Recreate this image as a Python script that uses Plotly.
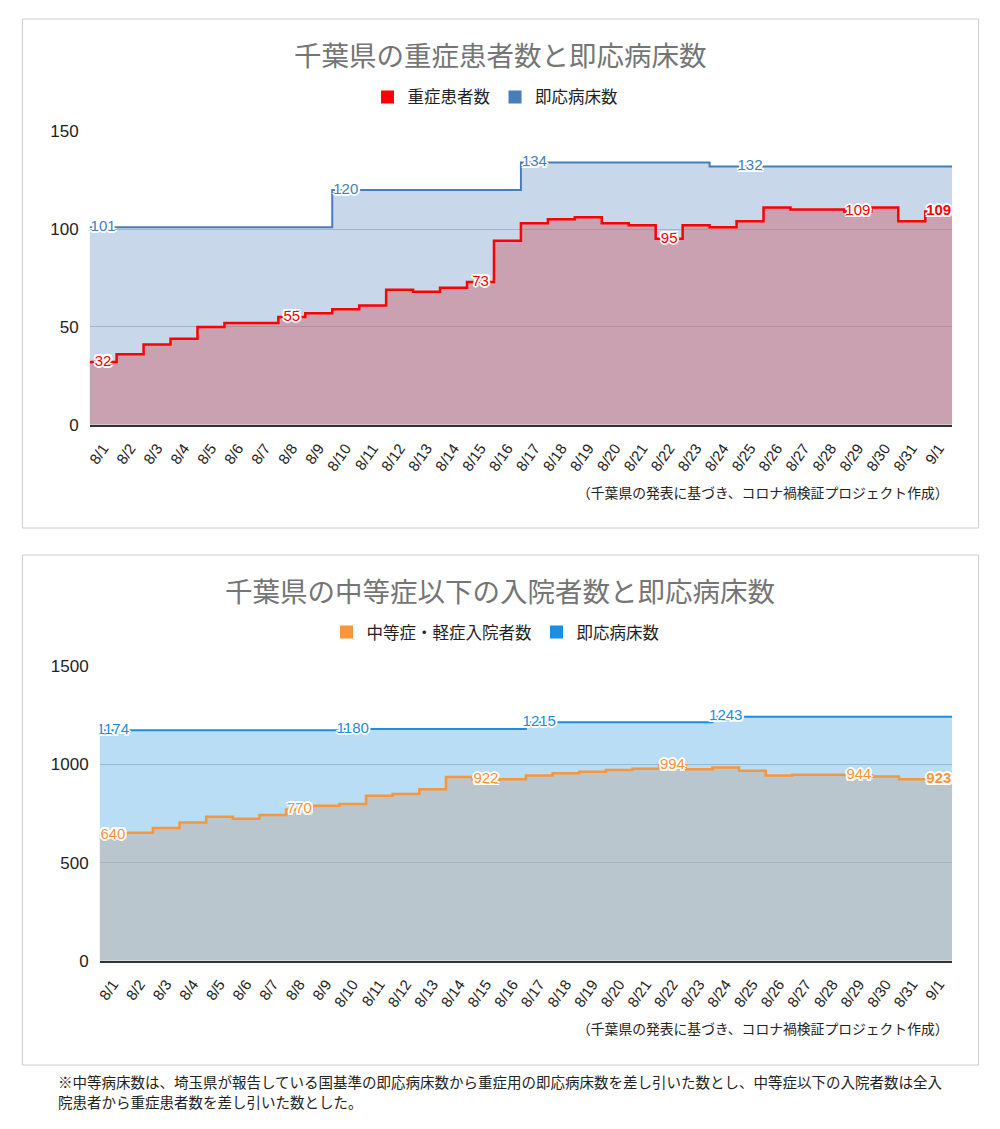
import plotly.graph_objects as go

# ---------------- data ----------------
dates = ["8/1", "8/2", "8/3", "8/4", "8/5", "8/6", "8/7", "8/8", "8/9", "8/10",
         "8/11", "8/12", "8/13", "8/14", "8/15", "8/16", "8/17", "8/18", "8/19", "8/20",
         "8/21", "8/22", "8/23", "8/24", "8/25", "8/26", "8/27", "8/28", "8/29", "8/30",
         "8/31", "9/1"]

severe_patients = [32, 36, 41, 44, 50, 52, 52, 55, 57, 59, 61, 69, 68, 70, 73, 94,
                   103, 105, 106, 103, 102, 95, 102, 101, 104, 111, 110, 110, 109, 111,
                   104, 109]
severe_beds = [101, 101, 101, 101, 101, 101, 101, 101, 101, 120, 120, 120, 120, 120, 120, 120,
               134, 134, 134, 134, 134, 134, 134, 132, 132, 132, 132, 132, 132, 132,
               132, 132]

moderate_patients = [640, 652, 676, 704, 733, 723, 743, 770, 789, 799, 840, 850, 873, 936,
                     922, 924, 943, 955, 963, 971, 978, 994, 976, 985, 968, 943, 948, 948,
                     944, 939, 924, 923]
moderate_beds = [1174, 1174, 1174, 1174, 1174, 1174, 1174, 1174, 1174, 1180, 1180, 1180,
                 1180, 1180, 1180, 1180, 1215, 1215, 1215, 1215, 1215, 1215, 1215, 1243,
                 1243, 1243, 1243, 1243, 1243, 1243, 1243, 1243]

# indices where data labels are shown
lbl_severe_patients = [0, 7, 14, 21, 28, 31]
lbl_severe_beds = [0, 9, 16, 24]
lbl_moderate_patients = [0, 7, 14, 21, 28, 31]
lbl_moderate_beds = [0, 9, 16, 23]

y_ticks_top = [0, 50, 100, 150]
y_ticks_bottom = [0, 500, 1000, 1500]

title_top = "千葉県の重症患者数と即応病床数"
title_bottom = "千葉県の中等症以下の入院者数と即応病床数"
name_sp = "重症患者数"
name_sb = "即応病床数"
name_mp = "中等症・軽症入院者数"
name_mb = "即応病床数"
caption = "（千葉県の発表に基づき、コロナ禍検証プロジェクト作成）"
footnote1 = "※中等病床数は、埼玉県が報告している国基準の即応病床数から重症用の即応病床数を差し引いた数とし、中等症以下の入院者数は全入"
footnote2 = "院患者から重症患者数を差し引いた数とした。"

# ---------------- geometry helpers ----------------
W, H = 1000, 1129


def px(x):
    return x / W


def py(y):
    yd = (y - 8.5) / 0.985
    return 1 - yd / H


FONT = "Arial, 'Liberation Sans', 'Noto Sans CJK JP', sans-serif"
HALO = ("white 1.5px 1.5px 0px, white -1.5px -1.5px 0px, white 1.5px -1.5px 0px, "
        "white -1.5px 1.5px 0px, white 0px 2px 0px, white 0px -2px 0px, "
        "white 2px 0px 0px, white -2px 0px 0px")

n = len(dates)
edges = list(range(n + 1))
centers = [i + 0.5 for i in range(n)]

fig = go.Figure()


def step_trace(vals, color, fill, xa, ya, width):
    return go.Scatter(x=edges, y=list(vals) + [vals[-1]], mode="lines",
                      line=dict(shape="hv", color=color, width=width),
                      fill="tozeroy", fillcolor=fill, xaxis=xa, yaxis=ya,
                      showlegend=False, hoverinfo="skip")


def label_trace(vals, idxs, color, xa, ya):
    texts = []
    for i in idxs:
        t = str(vals[i])
        if i == n - 1:
            t = "<b>" + t + "</b>"
        texts.append(t)
    return go.Scatter(x=[centers[i] for i in idxs], y=[vals[i] for i in idxs],
                      mode="text", text=texts, textposition="middle center",
                      textfont=dict(color=color, size=15, family=FONT, shadow=HALO),
                      xaxis=xa, yaxis=ya, showlegend=False, hoverinfo="skip")


def legend_trace(name, color, legend):
    return go.Scatter(x=[None], y=[None], mode="markers", name=name,
                      marker=dict(symbol="square", size=13, color=color),
                      xaxis="x", yaxis="y", legend=legend, showlegend=True)


BLUE_TOP = "#487db9"
RED = "#ff0000"
ORANGE = "#f7963a"
BLUE_BOT = "#1a8ee0"

# top chart
fig.add_trace(step_trace(severe_beds, BLUE_TOP, "rgba(72,125,185,0.3)", "x", "y", 2))
fig.add_trace(step_trace(severe_patients, RED, "rgba(202,106,120,0.5)", "x", "y", 2.5))
fig.add_trace(label_trace(severe_beds, lbl_severe_beds, BLUE_TOP, "x", "y"))
fig.add_trace(label_trace(severe_patients, lbl_severe_patients, RED, "x", "y"))

# bottom chart
fig.add_trace(step_trace(moderate_beds, BLUE_BOT, "rgba(22,142,222,0.3)", "x2", "y2", 2))
fig.add_trace(step_trace(moderate_patients, ORANGE, "rgba(185,175,167,0.5)", "x2", "y2", 2.5))
fig.add_trace(label_trace(moderate_beds, lbl_moderate_beds, BLUE_BOT, "x2", "y2"))
fig.add_trace(label_trace(moderate_patients, lbl_moderate_patients, ORANGE, "x2", "y2"))

# legends
fig.add_trace(legend_trace(name_sp, RED, "legend"))
fig.add_trace(legend_trace(name_sb, BLUE_TOP, "legend"))
fig.add_trace(legend_trace(name_mp, ORANGE, "legend2"))
fig.add_trace(legend_trace(name_mb, BLUE_BOT, "legend2"))

xcommon = dict(range=[0, n], tickmode="array", tickvals=centers, ticktext=dates,
               tickangle=-55, tickfont=dict(size=15, color="#222", family=FONT),
               showgrid=False, zeroline=False, showline=True, linecolor="#333",
               linewidth=2, ticks="", ticklabelstandoff=7, fixedrange=True)
ycommon = dict(tickmode="array", showgrid=True, gridcolor="#cccccc", gridwidth=1,
               zeroline=False, showline=False, ticks="",
               tickfont=dict(size=17, color="#222", family=FONT),
               ticklabelstandoff=10, fixedrange=True)

fig.update_layout(
    width=W, height=H,
    margin=dict(l=0, r=0, t=0, b=0),
    paper_bgcolor="white", plot_bgcolor="white",
    font=dict(family=FONT, color="#222"),
    xaxis=dict(domain=[px(86), px(952)], anchor="y", **xcommon),
    yaxis=dict(domain=[py(425), py(131)], anchor="x", range=[0, 150],
               tickvals=y_ticks_top, **ycommon),
    xaxis2=dict(domain=[px(96), px(952)], anchor="y2", **xcommon),
    yaxis2=dict(domain=[py(962), py(667)], anchor="x2", range=[0, 1500],
                tickvals=y_ticks_bottom, **ycommon),
    legend=dict(orientation="h", x=0.493, xanchor="center", y=py(97), yanchor="middle",
                font=dict(size=16.5, color="#222", family=FONT), bgcolor="rgba(0,0,0,0)",
                itemclick=False, itemdoubleclick=False),
    legend2=dict(orientation="h", x=0.4935, xanchor="center", y=py(633), yanchor="middle",
                 font=dict(size=16.5, color="#222", family=FONT), bgcolor="rgba(0,0,0,0)",
                 itemclick=False, itemdoubleclick=False),
    showlegend=True,
    shapes=[
        dict(type="rect", xref="paper", yref="paper", x0=px(18.5), x1=px(978.5),
             y0=py(528.5), y1=py(18.5), line=dict(color="#cccccc", width=1), layer="below"),
        dict(type="rect", xref="paper", yref="paper", x0=px(18.5), x1=px(978.5),
             y0=py(1066.5), y1=py(555.5), line=dict(color="#cccccc", width=1), layer="below"),
    ],
    annotations=[
        dict(text=title_top, xref="paper", yref="paper", x=0.498, y=py(56),
             xanchor="center", yanchor="middle", showarrow=False,
             font=dict(size=27.5, color="#757575", family=FONT)),
        dict(text=title_bottom, xref="paper", yref="paper", x=0.498, y=py(593),
             xanchor="center", yanchor="middle", showarrow=False,
             font=dict(size=27.5, color="#757575", family=FONT)),
        dict(text=caption, xref="paper", yref="paper", x=px(951), y=py(493),
             xanchor="right", yanchor="middle", showarrow=False,
             font=dict(size=13.8, color="#222", family=FONT)),
        dict(text=caption, xref="paper", yref="paper", x=px(951), y=py(1030),
             xanchor="right", yanchor="middle", showarrow=False,
             font=dict(size=13.8, color="#222", family=FONT)),
        dict(text=footnote1, xref="paper", yref="paper", x=px(52), y=py(1084),
             xanchor="left", yanchor="middle", showarrow=False,
             font=dict(size=14.5, color="#222", family=FONT)),
        dict(text=footnote2, xref="paper", yref="paper", x=px(52), y=py(1105),
             xanchor="left", yanchor="middle", showarrow=False,
             font=dict(size=14.5, color="#222", family=FONT)),
    ],
)

fig.write_html("out.html", config={"displayModeBar": False},
               post_script="document.body.style.margin='0';document.body.style.padding='0';"
                           "document.body.style.overflow='hidden';")
